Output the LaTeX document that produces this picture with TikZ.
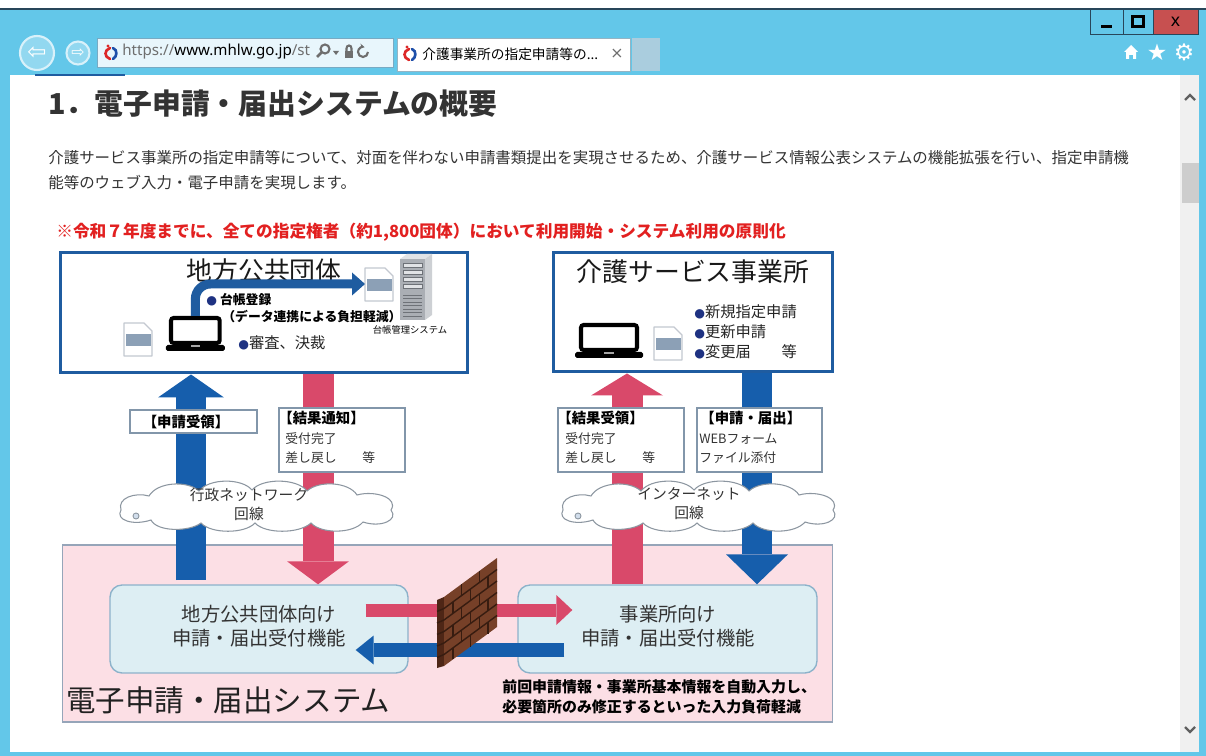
\documentclass[tikz,border=0pt]{standalone}
\usepackage{fontspec}
\setmainfont{Noto Sans CJK JP}
\newfontfamily\latinfont{Noto Sans}
\newfontfamily\symfont{DejaVu Sans}
\usetikzlibrary{arrows.meta,calc}

\definecolor{framebg}{RGB}{99,199,233}
\definecolor{framedark}{RGB}{40,70,90}
\definecolor{addrfill}{RGB}{232,246,252}
\definecolor{addrline}{RGB}{120,170,195}
\definecolor{tabline}{RGB}{150,180,195}
\definecolor{newtab}{RGB}{170,205,222}
\definecolor{urlgrey}{RGB}{110,110,110}
\definecolor{logored}{RGB}{220,40,40}
\definecolor{logoblue}{RGB}{30,80,170}
\definecolor{closered}{RGB}{199,80,80}
\definecolor{scrolltrack}{RGB}{240,240,240}
\definecolor{scrollthumb}{RGB}{205,205,205}
\definecolor{scrollarrow}{RGB}{96,96,96}
\definecolor{bodytext}{RGB}{51,51,51}
\definecolor{notered}{RGB}{226,32,32}
\definecolor{govblue}{RGB}{31,92,160}
\definecolor{bulletblue}{RGB}{30,50,130}
\definecolor{flowblue}{RGB}{22,94,172}
\definecolor{flowpink}{RGB}{217,73,106}
\definecolor{tagline}{RGB}{130,150,170}
\definecolor{cloudline}{RGB}{140,150,160}
\definecolor{syspink}{RGB}{252,223,229}
\definecolor{sysline}{RGB}{150,165,185}
\definecolor{funcfill}{RGB}{221,238,243}
\definecolor{funcline}{RGB}{140,178,202}
\definecolor{docline}{RGB}{195,200,208}
\definecolor{docband}{RGB}{140,160,182}
\definecolor{brick}{RGB}{118,64,40}
\definecolor{brickside}{RGB}{78,38,22}
\definecolor{mortar}{RGB}{55,28,16}
\definecolor{serverfront}{RGB}{170,174,180}
\definecolor{serverside}{RGB}{205,208,212}
\definecolor{servertop}{RGB}{225,227,230}
\definecolor{serverline}{RGB}{110,114,120}

\newcommand{\itembullet}{{\color{bulletblue}\symfont\fontsize{7}{7}\selectfont ●}}

\tikzset{
  docpic/.pic={
    \draw[docline, fill=white, line width=0.7pt, line join=round] (0,0) -- (20,0) -- (28,8) -- (28,33) -- (0,33) -- cycle;
    \fill[docband] (1.5,11) rectangle (26.5,23);
    \coordinate (-west) at (0,16);
  },
  laptoppic/.pic={
    \draw[black, line width=2.3pt, rounded corners=1.5pt, fill=white] (0,0) rectangle (56,25);
    \fill[black, rounded corners=1pt] (-6,27) rectangle (62,33);
    \fill[gray!70] (23,27.5) rectangle (33,29);
    \coordinate (-top) at (28,-2);
  },
  serverpic/.pic={
    \fill[servertop] (0,5) -- (7,0) -- (32,0) -- (25,5) -- cycle;
    \fill[serverside] (25,5) -- (32,0) -- (32,61) -- (25,66) -- cycle;
    \fill[serverfront] (0,5) rectangle (25,66);
    \foreach \i in {0,...,3}
      \draw[serverline, fill=servertop, line width=0.4pt] (3,{9+7*\i}) rectangle (22,{13.5+7*\i});
    \foreach \i in {0,...,6}
      \draw[serverline, line width=0.4pt] (3,{41+3.5*\i}) -- (22,{41+3.5*\i});
  },
  logopic/.pic={
    \draw[logored, line width=1.5pt, line cap=round] (-1,-5) .. controls (-7,-3) and (-7,4) .. (-1,6);
    \draw[logoblue, line width=1.5pt, line cap=round] (2,-5) .. controls (7,-3) and (6,4) .. (2,6);
    \fill[logored] (-3,-7) circle (1.6);
  },
  % wide flat cloud, centred on the pic origin
  cloudpic/.pic={
    \draw[cloudline, fill=white, line width=0.6pt]
      (-136,4) .. controls (-140,-8) and (-122,-14) .. (-108,-10)
      .. controls (-100,-24) and (-70,-26) .. (-58,-15)
      .. controls (-48,-28) and (-15,-28) .. (-5,-16)
      .. controls (5,-28) and (40,-28) .. (50,-15)
      .. controls (62,-26) and (92,-24) .. (100,-11)
      .. controls (118,-16) and (142,-8) .. (134,4)
      .. controls (142,14) and (124,22) .. (106,16)
      .. controls (96,28) and (64,28) .. (54,17)
      .. controls (42,28) and (8,28) .. (-2,17)
      .. controls (-12,28) and (-46,28) .. (-56,17)
      .. controls (-68,26) and (-100,26) .. (-106,14)
      .. controls (-124,20) and (-142,14) .. (-136,4) -- cycle;
    \draw[cloudline, fill=white!80!govblue, line width=0.5pt] (-121,10) circle (3);
  },
}

\begin{document}
\begin{tikzpicture}[x=0.02cm, y=-0.02cm,
    navbtn/.style={circle, draw=white!75!framebg, line width=1.2pt, fill=white!30!framebg, inner sep=0, text=white},
    winbtn/.style={draw=framedark, line width=0.5pt, inner sep=0},
    pagetitle/.style={anchor=west, font=\fontsize{16.4}{20}\selectfont\bfseries, text=bodytext, inner sep=0},
    bodyline/.style={anchor=west, font=\fontsize{8.8}{11}\selectfont, text=bodytext, inner sep=0},
    notice/.style={anchor=west, font=\fontsize{9.5}{12}\selectfont\bfseries, text=notered, inner sep=0},
    mainbox/.style={draw=govblue, line width=1.7pt, fill=white, inner sep=0},
    boxtitle/.style={font=\fontsize{14.7}{18}\selectfont, text=black!90, inner sep=0},
    item/.style={anchor=west, font=\fontsize{8.7}{11}\selectfont, text=black!85, inner sep=0},
    smallbold/.style={anchor=west, font=\fontsize{7.3}{9}\selectfont\bfseries, inner sep=0},
    tinycap/.style={font=\fontsize{5.3}{6}\selectfont, inner sep=0},
    tagbox/.style={draw=tagline, line width=0.6pt, fill=white, inner sep=0},
    taghead/.style={anchor=west, font=\fontsize{8.2}{10}\selectfont\bfseries, inner sep=0},
    tagtext/.style={anchor=west, font=\fontsize{7.3}{9}\selectfont, text=bodytext, inner sep=0},
    cloudtext/.style={align=center, font=\fontsize{8.4}{10.8}\selectfont, text=bodytext, inner sep=0},
    sysarea/.style={draw=sysline, line width=0.6pt, fill=syspink, inner sep=0},
    funcbox/.style={draw=funcline, line width=0.8pt, fill=funcfill, rounded corners=0.24cm, inner sep=0},
    functext/.style={align=center, font=\fontsize{11}{13.6}\selectfont, text=bodytext, inner sep=0},
    systitle/.style={anchor=west, font=\fontsize{16.8}{20}\selectfont, text=black!87, inner sep=0},
    loadnote/.style={anchor=west, align=left, font=\fontsize{8.5}{11.3}\selectfont\bfseries, inner sep=0},
]
\useasboundingbox (0,0) rectangle (1206,756);

% window frame
\fill[white] (0,0) rectangle (1206,756);
\fill[framebg] (0,9) rectangle (1206,75);
\fill[framebg] (0,75) rectangle (10,756);
\fill[framebg] (1199,75) rectangle (1206,756);
\fill[framebg] (0,752) rectangle (1206,756);
\draw[framedark, line width=0.6pt] (0,9) -- (1206,9);

% title bar buttons
\node[winbtn, fill=framebg, minimum width=0.66cm, minimum height=0.5cm] (minbtn) at (1106.5,21.5) {};
\node[winbtn, fill=framebg, minimum width=0.6cm, minimum height=0.5cm] (maxbtn) at (1138,21.5) {};
\node[winbtn, fill=closered, minimum width=0.9cm, minimum height=0.5cm] (closebtn) at (1175.5,21.5) {\latinfont\bfseries\fontsize{10}{10}\selectfont x};
\fill[black] (1101,25) rectangle (1112,28.5);
\draw[black, line width=1.6pt] (1132.5,16.5) rectangle (1143.5,26.5);

% navigation
\node[navbtn, minimum size=0.68cm] (backbtn) at (37,53) {\symfont\fontsize{13}{13}\selectfont ⇦};
\node[navbtn, minimum size=0.46cm] (fwdbtn) at (78,53) {\symfont\fontsize{9}{9}\selectfont ⇨};
\draw[govblue, line width=1pt] (35,75) -- (125,75);

% address bar
\node[draw=addrline, fill=addrfill, minimum width=5.92cm, minimum height=0.58cm, inner sep=0] (addr) at (245,52.5) {};
\pic (addrlogo) at (111,53) {logopic};
\node[anchor=west, inner sep=0, font=\latinfont\fontsize{8.6}{10}\selectfont] (url) at (122,52) {\textcolor{urlgrey}{https://}www.mhlw.go.jp\textcolor{urlgrey}{/st}};
\draw[urlgrey, line width=1.2pt] (325,49) circle (4.5);
\draw[urlgrey, line width=1.6pt] (321.8,52.2) -- (317,57);
\fill[urlgrey] (333,51) -- (339,51) -- (336,55) -- cycle;
\fill[urlgrey] (345,51) rectangle (353,58);
\draw[urlgrey, line width=1.2pt] (346.5,51) -- (346.5,48.5) .. controls (346.5,44.5) and (351.5,44.5) .. (351.5,48.5) -- (351.5,51);
\draw[urlgrey, line width=1.2pt, -{Stealth[length=3pt]}] (368,52) arc[start angle=0, end angle=290, radius=5];

% tabs
\node[draw=tabline, fill=white, minimum width=4.66cm, minimum height=0.66cm, inner sep=0] (tab) at (513.5,54.5) {};
\pic (tablogo) at (410,54) {logopic};
\node[anchor=west, inner sep=0, font=\fontsize{7.8}{9}\selectfont] (tabtitle) at (422,54) {介護事業所の指定申請等の...};
\node[inner sep=0, text=urlgrey, font=\symfont\fontsize{9}{9}\selectfont] (tabclose) at (617,54) {×};
\node[fill=newtab, minimum width=0.56cm, minimum height=0.66cm, inner sep=0] (newtabbtn) at (646,54.5) {};

% toolbar icons
\fill[white] (1124,52) -- (1131,45) -- (1138,52) -- (1136,52) -- (1136,59) -- (1133,59) -- (1133,55) -- (1129,55) -- (1129,59) -- (1126,59) -- (1126,52) -- cycle;
\node[text=white, inner sep=0, font=\symfont\fontsize{13}{13}\selectfont] (staricon) at (1157,52) {★};
\node[text=white, inner sep=0, font=\symfont\fontsize{13}{13}\selectfont] (gearicon) at (1184,52) {⚙};

% scrollbar
\fill[scrolltrack] (1180,75) rectangle (1199,752);
\fill[scrollthumb] (1182,163) rectangle (1199,203);
\draw[scrollarrow, line width=1.3pt] (1185,100) -- (1190,95) -- (1195,100);
\draw[scrollarrow, line width=1.3pt] (1185,727) -- (1190,732) -- (1195,727);

% page text
\node[pagetitle] (heading) at (48,104) {1．電子申請・届出システムの概要};
\node[bodyline] (intro1) at (48,158) {介護サービス事業所の指定申請等について、対面を伴わない申請書類提出を実現させるため、介護サービス情報公表システムの機能拡張を行い、指定申請機};
\node[bodyline] (intro2) at (48,183) {能等のウェブ入力・電子申請を実現します。};
\node[notice] (deadline) at (56,232) {※令和７年度までに、全ての指定権者（約1,800団体）において利用開始・システム利用の原則化};

% local government
\node[mainbox, minimum width=8.16cm, minimum height=2.42cm] (gov) at (264,312.5) {};
\node[boxtitle] (govtitle) at (264,271) {地方公共団体};
\pic (govdoc) at (124,323) {docpic};
\pic[xscale=0.87] (govlap) at (171,318) {laptoppic};
\pic (ledgerdoc) at (365,268) {docpic};
\pic (ledgersrv) at (400,254) {serverpic};
\node[tinycap] (ledgercap) at (410,330) {台帳管理システム};
\draw[govblue, line width=0.18cm, rounded corners=0.3cm, -{Triangle[length=0.26cm,width=0.46cm,line width=0pt]}] (govlap-top) |- (ledgerdoc-west);
\node[smallbold] (ledgerreg) at (206,300) {\itembullet\ 台帳登録};
\node[smallbold] (ledgernote) at (222,317) {（データ連携による負担軽減）};
\node[item] (review) at (238,343) {\itembullet 審査、決裁};

% care service provider
\node[mainbox, minimum width=5.6cm, minimum height=2.4cm] (svc) at (693,312) {};
\node[boxtitle] (svctitle) at (693,272) {介護サービス事業所};
\pic (svclap) at (581,325) {laptoppic};
\pic (svcdoc) at (654,327) {docpic};
\node[item] (newapp) at (694,312) {\itembullet 新規指定申請};
\node[item] (renewal) at (694,332) {\itembullet 更新申請};
\node[item] (change) at (694,352) {\itembullet 変更届　　等};

% e-application system
\node[sysarea, minimum width=15.42cm, minimum height=3.54cm] (sys) at (447.5,633.5) {};
\node[funcbox, minimum width=5.96cm, minimum height=1.76cm] (lfunc) at (259,629) {};
\node[funcbox, minimum width=5.98cm, minimum height=1.76cm] (rfunc) at (667.5,629) {};

% vertical flows
\coordinate (lupfoot) at (191,580);
\coordinate (ldowncol) at (318,0);
\coordinate (rupcol) at (627,0);
\coordinate (rdowncol) at (757,0);
\draw[flowblue, line width=0.6cm, -{Triangle[length=0.46cm,width=1.32cm,line width=0pt]}] (lupfoot) -- (gov.south -| lupfoot);
\draw[flowpink, line width=0.62cm, -{Triangle[length=0.46cm,width=1.24cm,line width=0pt]}] (gov.south -| ldowncol) -- (lfunc.north -| ldowncol);
\draw[flowpink, line width=0.62cm, -{Triangle[length=0.44cm,width=1.44cm,line width=0pt]}] (rfunc.north -| rupcol) -- (svc.south -| rupcol);
\draw[flowblue, line width=0.6cm, -{Triangle[length=0.6cm,width=1.24cm,line width=0pt]}] (svc.south -| rdowncol) -- (rfunc.north -| rdowncol);

% labels on the flows
\node[tagbox, minimum width=2.54cm, minimum height=0.46cm] (recvtag) at (193.5,421.5) {};
\node[taghead, anchor=center] (recvhead) at (186,421.5) {【申請受領】};
\node[tagbox, minimum width=2.52cm, minimum height=1.28cm] (notifytag) at (342,440) {};
\node[taghead] (notifyhead) at (278,418) {【結果通知】};
\node[tagtext] (notifyline1) at (285,439) {受付完了};
\node[tagtext] (notifyline2) at (285,458) {差し戻し　　等};
\node[tagbox, minimum width=2.52cm, minimum height=1.28cm] (resulttag) at (621,440) {};
\node[taghead] (resulthead) at (557,418) {【結果受領】};
\node[tagtext] (resultline1) at (565,439) {受付完了};
\node[tagtext] (resultline2) at (565,458) {差し戻し　　等};
\node[tagbox, minimum width=2.5cm, minimum height=1.28cm] (submittag) at (759.5,440) {};
\node[taghead] (submithead) at (700,418) {【申請・届出】};
\node[tagtext] (submitline1) at (699,439) {WEBフォーム};
\node[tagtext] (submitline2) at (699,458) {ファイル添付};

% networks
\pic (govnet) at (257,506) {cloudpic};
\node[cloudtext] (govnettext) at (249,504) {行政ネットワーク\\回線};
\pic (webnet) at (699,506) {cloudpic};
\node[cloudtext] (webnettext) at (689,504) {インターネット\\回線};

% exchange through the firewall
\coordinate (pinkrow) at (0,610);
\coordinate (bluerow) at (0,650);
\draw[flowpink, line width=0.26cm, -{Triangle[length=0.32cm,width=0.6cm,line width=0pt]}] ($(lfunc.east |- pinkrow)+(-43,0)$) -- ($(rfunc.west |- pinkrow)+(55,0)$);
\draw[flowblue, line width=0.28cm, -{Triangle[length=0.36cm,width=0.58cm,line width=0pt]}] ($(rfunc.west |- bluerow)+(47,0)$) -- ($(lfunc.east |- bluerow)+(-53,0)$);

% firewall
\fill[brickside] (437,600) -- (444,597) -- (444,666) -- (437,668) -- cycle;
\fill[brick] (444,597) -- (497,558) -- (497,627) -- (444,666) -- cycle;
\foreach \r in {1,...,5}
  \draw[mortar, line width=0.8pt] (444,{597+11.5*\r}) -- (497,{558+11.5*\r});
\foreach \r in {0,2,4}
  \foreach \t in {0.33,0.67}
    \draw[mortar, line width=0.8pt] ({444+53*\t},{597-39*\t+11.5*\r}) -- ++(0,11.5);
\foreach \r in {1,3,5}
  \foreach \t in {0.17,0.5,0.83}
    \draw[mortar, line width=0.8pt] ({444+53*\t},{597-39*\t+11.5*\r}) -- ++(0,11.5);
\foreach \r in {1,...,5}
  \draw[mortar, line width=0.8pt] (437,{600+11.5*\r}) -- (444,{597+11.5*\r});

% system texts
\node[functext] (lfunctext) at (259,626) {地方公共団体向け\\申請・届出受付機能};
\node[functext] (rfunctext) at (668,626) {事業所向け\\申請・届出受付機能};
\node[systitle] (systemname) at (66,700) {電子申請・届出システム};
\node[loadnote] (autofill) at (502,697) {前回申請情報・事業所基本情報を自動入力し、\\必要箇所のみ修正するといった入力負荷軽減};

\end{tikzpicture}
\end{document}
